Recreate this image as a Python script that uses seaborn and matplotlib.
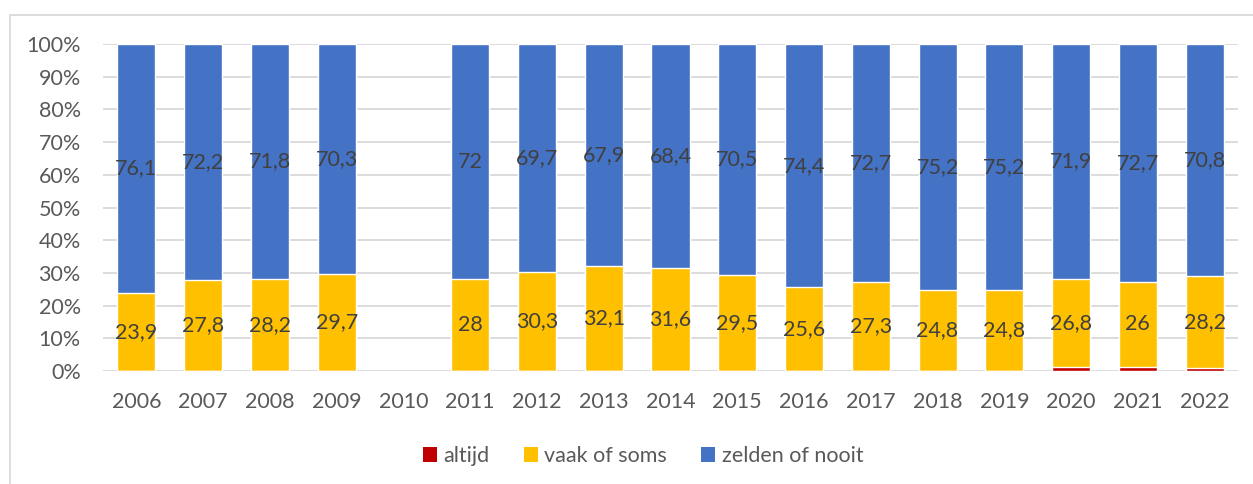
import numpy as np
import pandas as pd
import matplotlib
matplotlib.use("Agg")
import matplotlib.pyplot as plt
from matplotlib.lines import Line2D
from matplotlib.patches import Patch
import seaborn as sns

years = ["2006", "2007", "2008", "2009", "2010", "2011", "2012", "2013", "2014",
         "2015", "2016", "2017", "2018", "2019", "2020", "2021", "2022"]
altijd = [0, 0, 0, 0, np.nan, 0, 0, 0, 0, 0, 0, 0, 0, 0, 1.3, 1.3, 1.0]
vaak_of_soms = [23.9, 27.8, 28.2, 29.7, np.nan, 28, 30.3, 32.1, 31.6, 29.5, 25.6,
                27.3, 24.8, 24.8, 26.8, 26, 28.2]
zelden_of_nooit = [76.1, 72.2, 71.8, 70.3, np.nan, 72, 69.7, 67.9, 68.4, 70.5, 74.4,
                   72.7, 75.2, 75.2, 71.9, 72.7, 70.8]
series_names = ["altijd", "vaak of soms", "zelden of nooit"]
colors = ["#C00000", "#FFC000", "#4472C4"]

sns.set_theme(style="white")
plt.rcParams["font.family"] = ["Lato", "DejaVu Sans"]

df = pd.DataFrame({"year": years, "altijd": altijd, "vaak": vaak_of_soms,
                   "zelden": zelden_of_nooit})
tot = df[["altijd", "vaak", "zelden"]].sum(axis=1, min_count=1)
df["c1"] = df["altijd"] / tot
df["c2"] = (df["altijd"] + df["vaak"]) / tot
df["c3"] = (df["altijd"] + df["vaak"] + df["zelden"]) / tot

fig = plt.figure(figsize=(12.53, 4.84), dpi=100)
ax = fig.add_axes([103 / 1253, 1 - 371 / 484, 1135 / 1253, 327 / 484])

for col, c in [("c3", colors[2]), ("c2", colors[1]), ("c1", colors[0])]:
    sns.barplot(data=df, x="year", y=col, order=years, color=c, width=0.57,
                saturation=1, ax=ax, errorbar=None, zorder=3)

def fmt(v):
    s = f"{v:g}"
    return s.replace(".", ",")

FS = 15.5
for i, row in df.iterrows():
    if np.isnan(row["c3"]):
        continue
    ax.text(i, (row["c1"] + row["c2"]) / 2, fmt(row["vaak"]), ha="center", va="center",
            fontsize=FS, color="#404040", zorder=5)
    ax.text(i, (row["c2"] + row["c3"]) / 2, fmt(row["zelden"]), ha="center", va="center",
            fontsize=FS, color="#404040", zorder=5)

ax.set_xlim(-0.5, 16.5)
ax.set_ylim(0, 1)
ax.set_yticks(np.arange(0, 1.01, 0.1))
ax.set_yticklabels([f"{int(round(t * 100))}%" for t in np.arange(0, 1.01, 0.1)])
ax.yaxis.grid(True, color="#D9D9D9", linewidth=1.3, zorder=0)
ax.set_axisbelow(True)
for s in ax.spines.values():
    s.set_visible(False)
ax.set_xlabel("")
ax.set_ylabel("")
ax.tick_params(axis="x", length=0, pad=15, labelsize=FS, labelcolor="#595959")
ax.tick_params(axis="y", length=0, pad=16, labelsize=FS, labelcolor="#595959")

handles = [Patch(facecolor=c, edgecolor="none") for c in colors]
fig.legend(handles, series_names, loc="center", bbox_to_anchor=(643 / 1253, 1 - 456 / 484),
           ncol=3, frameon=False, fontsize=FS, labelcolor="#595959",
           handlelength=0.65, handleheight=0.65, handletextpad=0.3, columnspacing=1.6)

fig.add_artist(Line2D([10 / 1253, 10 / 1253], [0, 1 - 15 / 484], transform=fig.transFigure,
                      color="#D9D9D9", linewidth=1.3))
fig.add_artist(Line2D([10 / 1253, 1], [1 - 15 / 484, 1 - 15 / 484], transform=fig.transFigure,
                      color="#D9D9D9", linewidth=1.3))

fig.savefig("out.png", dpi=100)
